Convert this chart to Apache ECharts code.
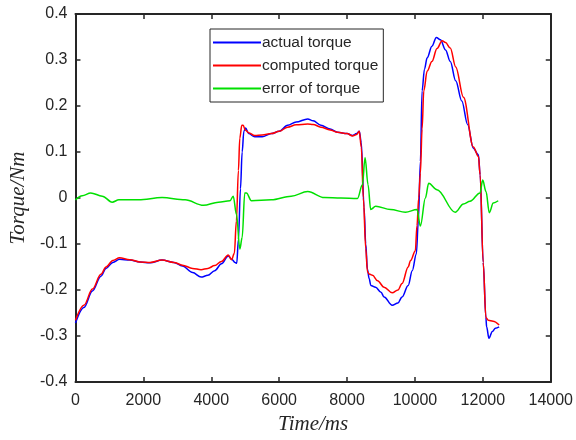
<!DOCTYPE html>
<html>
<head>
<meta charset="utf-8">
<script src="https://cdn.jsdelivr.net/npm/echarts@6/dist/echarts.min.js"></script>
<style>
  html, body { margin: 0; padding: 0; background: #fff; }
  #main { width: 576px; height: 440px; }
</style>
</head>
<body>
<div id="main"></div>
<script>
// series names
var seriesNames = ['actual torque', 'computed torque', 'error of torque']

// actual torque (blue)
var actualTime = [0, 250, 500, 750, 900, 1100, 1300, 1600, 1900, 2200, 2550, 2900, 3150, 3450, 3700, 3900, 4100, 4300, 4500, 4600, 4700, 4750, 4800, 4860, 4910, 4960, 5010, 5100, 5280, 5500, 5770, 6000, 6250, 6500, 6840, 7000, 7230, 7500, 7720, 8000, 8160, 8280, 8360, 8420, 8500, 8550, 8600, 8650, 8700, 8840, 9000, 9090, 9330, 9500, 9620, 9800, 9920, 10040, 10100, 10160, 10210, 10280, 10360, 10500, 10630, 10750, 10900, 11040, 11200, 11380, 11550, 11720, 11870, 11920, 12010, 12090, 12110, 12180, 12280, 12370, 12480]
var actualTorque = [-0.272, -0.238, -0.202, -0.17, -0.153, -0.14, -0.133, -0.135, -0.139, -0.141, -0.135, -0.14, -0.148, -0.162, -0.172, -0.168, -0.158, -0.143, -0.126, -0.133, -0.14, -0.142, -0.09, 0.02, 0.1, 0.145, 0.152, 0.14, 0.133, 0.133, 0.14, 0.145, 0.158, 0.165, 0.172, 0.168, 0.158, 0.15, 0.143, 0.14, 0.136, 0.14, 0.145, 0.12, -0.02, -0.1, -0.155, -0.175, -0.19, -0.194, -0.205, -0.215, -0.233, -0.228, -0.215, -0.19, -0.158, -0.122, -0.05, 0.08, 0.233, 0.28, 0.305, 0.33, 0.349, 0.344, 0.322, 0.297, 0.255, 0.211, 0.16, 0.108, 0.094, 0.05, -0.14, -0.26, -0.28, -0.305, -0.29, -0.283, -0.28]

// computed torque (red)
var computedTime = [0, 250, 500, 750, 900, 1100, 1300, 1600, 1900, 2200, 2550, 2900, 3150, 3450, 3700, 3900, 4100, 4300, 4500, 4600, 4680, 4740, 4800, 4840, 4900, 4940, 5000, 5100, 5280, 5500, 5770, 6000, 6250, 6500, 6840, 7000, 7230, 7500, 7720, 8000, 8160, 8280, 8360, 8420, 8480, 8550, 8600, 8650, 8750, 8900, 9090, 9330, 9500, 9620, 9800, 9870, 10010, 10060, 10110, 10160, 10210, 10260, 10360, 10500, 10650, 10800, 10900, 11040, 11200, 11430, 11720, 11870, 11920, 12010, 12090, 12160, 12300, 12480]
var computedTorque = [-0.266, -0.233, -0.198, -0.166, -0.15, -0.136, -0.13, -0.134, -0.139, -0.14, -0.135, -0.14, -0.146, -0.153, -0.156, -0.153, -0.147, -0.138, -0.124, -0.134, -0.12, -0.05, 0.06, 0.13, 0.158, 0.158, 0.148, 0.142, 0.136, 0.137, 0.14, 0.145, 0.154, 0.159, 0.161, 0.16, 0.154, 0.148, 0.143, 0.14, 0.135, 0.138, 0.145, 0.11, 0.0, -0.11, -0.16, -0.165, -0.168, -0.18, -0.194, -0.206, -0.2, -0.186, -0.15, -0.136, -0.115, -0.06, 0.0, 0.054, 0.15, 0.233, 0.276, 0.297, 0.325, 0.342, 0.338, 0.326, 0.285, 0.219, 0.111, 0.09, 0.05, -0.14, -0.26, -0.266, -0.268, -0.276]

// error of torque (green)
var errorTime = [0, 200, 450, 790, 1080, 1280, 1860, 2550, 3230, 3770, 4210, 4550, 4646, 4744, 4841, 4910, 4987, 5036, 5183, 5768, 6354, 6842, 7330, 7818, 8306, 8452, 8530, 8618, 8696, 8843, 9282, 9721, 10062, 10160, 10307, 10404, 10648, 11185, 11428, 11624, 11917, 11995, 12093, 12190, 12307, 12453]
var errorTorque = [-0.004, 0.005, 0.011, 0.004, -0.009, -0.004, -0.004, 0.001, -0.004, -0.016, -0.009, -0.006, 0.004, -0.036, -0.111, -0.086, 0.011, 0.011, -0.006, -0.004, 0.004, 0.014, 0.001, 0, -0.001, 0.029, 0.088, 0.029, -0.025, -0.018, -0.025, -0.031, -0.025, -0.061, 0, 0.032, 0.018, -0.031, -0.013, -0.007, 0.011, 0.039, 0.014, -0.032, -0.011, -0.006]

function pairs(t, v) {
    return t.map(function (x, i) { return [x, v[i]] })
}

var axisColor = '#262626'
var labelFont = { color: '#262626', fontSize: 16, fontFamily: 'Liberation Sans, Arial, sans-serif' }
var nameFont = { color: '#262626', fontSize: 21, fontStyle: 'italic', fontFamily: 'Liberation Serif, Times New Roman, serif' }

var myChart = echarts.init(document.getElementById('main'), null, { renderer: 'canvas' })

var baseAxis = {
    axisLine: { show: true, onZero: false, lineStyle: { color: axisColor, width: 2 } },
    axisTick: { show: true, inside: true, length: 5, lineStyle: { color: axisColor, width: 1.5 } },
    splitLine: { show: false }
}

var option = {
    animation: false,
    backgroundColor: '#fff',
    grid: { left: 73, right: 25, top: 14, bottom: 54 },
    legend: {
        orient: 'vertical',
        left: 210,
        top: 29,
        padding: [5, 5, 5, 3],
        itemGap: 6,
        itemWidth: 48,
        itemHeight: 2,
        icon: 'rect',
        borderColor: '#262626',
        borderWidth: 1,
        borderRadius: 0,
        backgroundColor: '#fff',
        textStyle: { color: '#262626', fontSize: 15.5, lineHeight: 17, fontFamily: 'Liberation Sans, Arial, sans-serif', padding: [0, 0, 0, -4] },
        data: seriesNames
    },
    xAxis: [
        Object.assign({}, baseAxis, {
            type: 'value',
            min: 0, max: 14000, interval: 2000,
            position: 'bottom',
            name: 'Time/ms',
            nameLocation: 'middle',
            nameGap: 32,
            nameTextStyle: nameFont,
            axisLabel: Object.assign({ margin: 11, formatter: function (v) { return String(v) } }, labelFont)
        }),
        Object.assign({}, baseAxis, {
            type: 'value',
            min: 0, max: 14000, interval: 2000,
            position: 'top',
            axisLabel: { show: false }
        })
    ],
    yAxis: [
        Object.assign({}, baseAxis, {
            type: 'value',
            min: -0.4, max: 0.4, interval: 0.1,
            position: 'left',
            name: 'Torque/Nm',
            nameLocation: 'middle',
            nameGap: 46,
            nameTextStyle: nameFont,
            axisLabel: Object.assign({ margin: 8, formatter: function (v) { return String(+v.toFixed(1)) } }, labelFont)
        }),
        Object.assign({}, baseAxis, {
            type: 'value',
            min: -0.4, max: 0.4, interval: 0.1,
            position: 'right',
            axisLabel: { show: false }
        })
    ],
    series: [
        {
            name: seriesNames[0], type: 'line', symbol: 'none',
            smooth: 0.35, smoothMonotone: 'x',
            lineStyle: { color: '#0000ff', width: 1.5 }, itemStyle: { color: '#0000ff' },
            data: pairs(actualTime, actualTorque)
        },
        {
            name: seriesNames[1], type: 'line', symbol: 'none',
            smooth: 0.35, smoothMonotone: 'x',
            lineStyle: { color: '#ff0000', width: 1.5 }, itemStyle: { color: '#ff0000' },
            data: pairs(computedTime, computedTorque)
        },
        {
            name: seriesNames[2], type: 'line', symbol: 'none',
            smooth: 0.35, smoothMonotone: 'x',
            lineStyle: { color: '#00e000', width: 1.5 }, itemStyle: { color: '#00e000' },
            data: pairs(errorTime, errorTorque)
        }
    ]
}

myChart.setOption(option)
</script>
</body>
</html>
